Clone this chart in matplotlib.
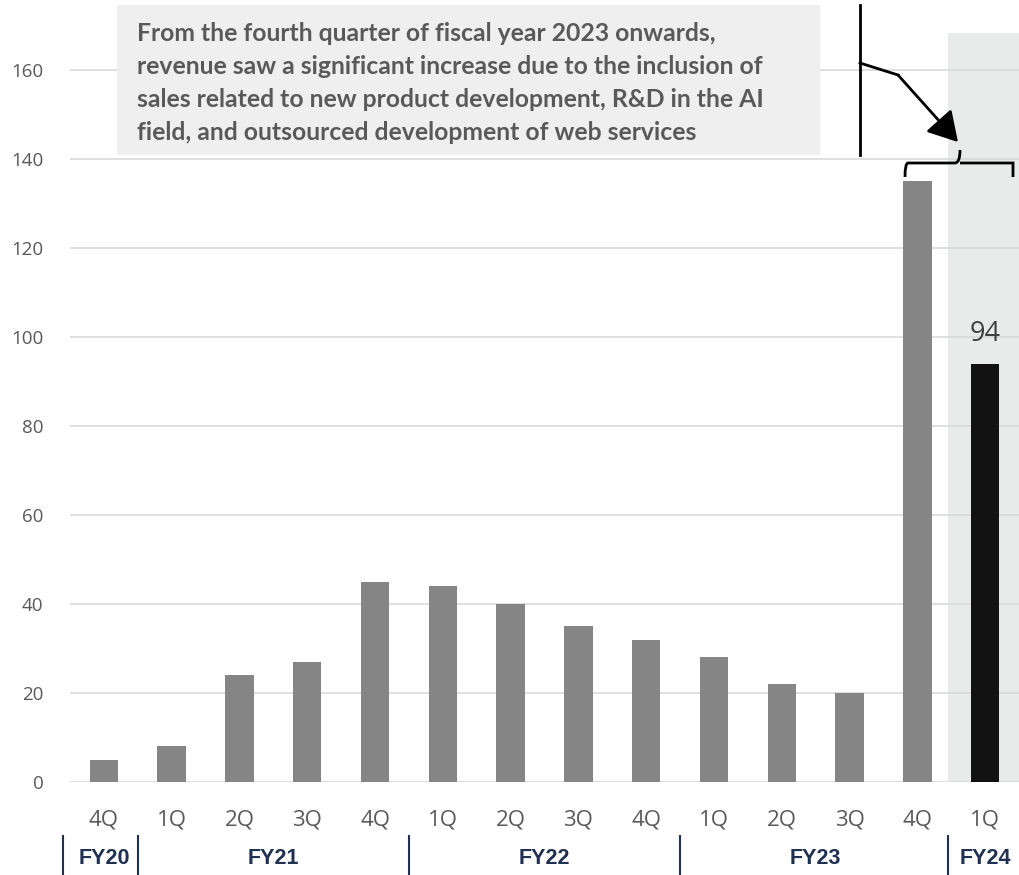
import matplotlib.pyplot as plt
from matplotlib.patches import Rectangle, PathPatch, FancyArrowPatch
from matplotlib.path import Path
from matplotlib.lines import Line2D

quarters = ["4Q", "1Q", "2Q", "3Q", "4Q", "1Q", "2Q", "3Q", "4Q", "1Q", "2Q", "3Q", "4Q", "1Q"]
revenue = [5, 8, 24, 27, 45, 44, 40, 35, 32, 28, 22, 20, 135, 94]
fiscal_years = ["FY20", "FY21", "FY22", "FY23", "FY24"]
fy_centers = [0, 2.5, 6.5, 10.5, 13]
fy_breaks = [-0.6, 0.5, 4.5, 8.5, 12.45]
yticks = [0, 20, 40, 60, 80, 100, 120, 140, 160]
note = ("From the fourth quarter of fiscal year 2023 onwards,\n"
        "revenue saw a significant increase due to the inclusion of\n"
        "sales related to new product development, R&D in the AI\n"
        "field, and outsourced development of web services")

W, H = 1020, 875
fig = plt.figure(figsize=(W / 100, H / 100), dpi=100)
ax = fig.add_axes([70 / W, (H - 782) / H, 949 / W, 765.4 / H])

def px(x, y):
    # pixel position -> figure fraction
    return (x / W, 1 - y / H)

x = list(range(len(revenue)))
colors = ["#858585"] * (len(revenue) - 1) + ["#121212"]

# highlight of the latest quarter
ax.add_patch(Rectangle((12.45, 0), 1.05, 168.3, color="#e9eaea", zorder=0, lw=0))
ax.bar(x, revenue, width=0.42, color=colors, zorder=3)
ax.text(13, 97.5, str(revenue[-1]), ha="center", va="bottom", fontsize=19.5,
        color="#404040", family="Open Sans")

ax.set_xlim(-0.5, 13.5)
ax.set_ylim(0, 172)
ax.set_yticks(yticks)
ax.yaxis.grid(True, color="#d9d9d9", lw=1.2, zorder=1)
ax.set_axisbelow(True)
for s in ax.spines.values():
    s.set_visible(False)
ax.tick_params(length=0)
ax.set_xticks(x)
ax.set_xticklabels(quarters, fontsize=16, color="#595959", family="Open Sans")
ax.set_yticklabels([str(v) for v in yticks], fontsize=13.5, color="#595959", family="Open Sans")
ax.tick_params(axis="x", pad=20)
ax.tick_params(axis="y", pad=19)

# fiscal year row
trans = ax.get_xaxis_transform()
for fy, c in zip(fiscal_years, fy_centers):
    ax.text(c, -0.1, fy, transform=trans, ha="center", va="center", fontsize=15.5,
            fontweight="bold", color="#1f3050", family="Liberation Sans")
for b in fy_breaks:
    ax.plot([b, b], [-0.07, -0.125], transform=trans, color="#1f3050", lw=1.5, clip_on=False)

# note box
x0, y0 = px(117, 155)
x1, y1 = px(820, 5)
fig.patches.append(Rectangle((x0, y0), x1 - x0, y1 - y0, transform=fig.transFigure,
                             color="#efefef", lw=0, zorder=5))
tx, ty = px(137, 83)
fig.text(tx, ty, note, ha="left", va="center", fontsize=17.8, fontweight="bold",
         color="#595959", family="Lato", linespacing=1.53, zorder=6)

# callout line, arrow and brace
fig.add_artist(Line2D([860 / W, 860 / W], [1 - 5 / H, 1 - 155 / H], color="black", lw=2))
fig.add_artist(Line2D([860 / W, 898 / W], [1 - 63 / H, 1 - 75 / H], color="black", lw=2))
fig.add_artist(FancyArrowPatch(px(898, 75), px(958, 142), transform=fig.transFigure,
                               arrowstyle="-|>,head_length=12,head_width=7",
                               color="black", lw=2, mutation_scale=1.5, shrinkA=0, shrinkB=0))
verts = [px(905, 177), px(905, 163), px(908, 163), px(910, 163),
         px(955, 163), px(960, 163), px(960, 150),
         px(960, 163), px(965, 163), px(1010, 163),
         px(1013, 163), px(1013, 163), px(1013, 177)]
codes = [Path.MOVETO, Path.CURVE3, Path.CURVE3, Path.LINETO,
         Path.LINETO, Path.CURVE3, Path.CURVE3,
         Path.MOVETO, Path.LINETO, Path.LINETO,
         Path.CURVE3, Path.CURVE3, Path.LINETO]
fig.patches.append(PathPatch(Path(verts, codes), transform=fig.transFigure,
                             fill=False, lw=2, color="black"))

fig.savefig("out.png", dpi=100)
